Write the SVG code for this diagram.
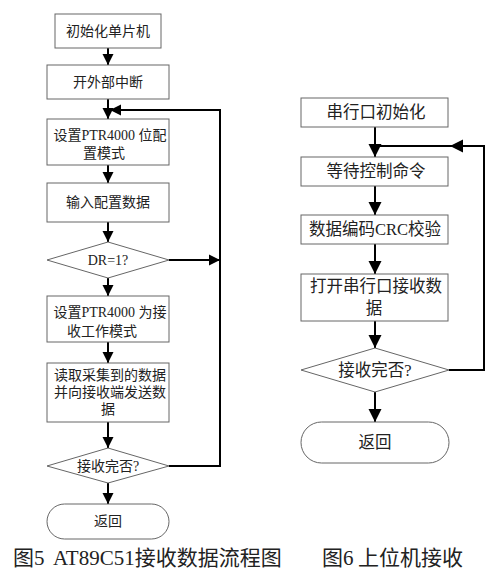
<svg xmlns="http://www.w3.org/2000/svg" width="500" height="574" viewBox="0 0 500 574">
<style>
.box{fill:#fff;stroke:#666;stroke-width:1}
.t{font-family:"Liberation Serif","Noto Sans CJK SC",serif;font-size:14px;fill:#222;text-anchor:middle}
.tr{font-family:"Liberation Serif","Noto Sans CJK SC",serif;font-size:16.5px;fill:#222;text-anchor:middle}
.cap{font-family:"Liberation Serif","Noto Sans CJK SC",serif;font-size:21px;fill:#222}
.ln{fill:none;stroke:#000;stroke-width:2}
</style>
<defs>
<marker id="a" viewBox="0 0 10 10" refX="10" refY="5" markerWidth="5.5" markerHeight="6.5" markerUnits="strokeWidth" orient="auto">
<path d="M0,0 L10,5 L0,10 z" fill="#000"/>
</marker>
<marker id="b" viewBox="0 0 10 10" refX="10" refY="5" markerWidth="6.5" markerHeight="7" markerUnits="strokeWidth" orient="auto">
<path d="M0,0 L10,5 L0,10 z" fill="#000"/>
</marker>
</defs>
<rect width="500" height="574" fill="#fff"/>
<g id="connectors">
<line class="ln" x1="108" y1="48" x2="108" y2="65" marker-end="url(#a)"/>
<line class="ln" x1="108" y1="99" x2="108" y2="119" marker-end="url(#a)"/>
<line class="ln" x1="108" y1="165" x2="108" y2="183" marker-end="url(#a)"/>
<line class="ln" x1="108" y1="222" x2="108" y2="242" marker-end="url(#a)"/>
<line class="ln" x1="108" y1="278" x2="108" y2="296" marker-end="url(#a)"/>
<line class="ln" x1="108" y1="342" x2="108" y2="363" marker-end="url(#a)"/>
<line class="ln" x1="108" y1="422" x2="108" y2="448" marker-end="url(#a)"/>
<line class="ln" x1="108" y1="483" x2="108" y2="504" marker-end="url(#a)"/>
<line class="ln" x1="169" y1="260" x2="220" y2="260" marker-end="url(#a)"/>
<polyline class="ln" points="169,466 220,466 220,110 110,110" marker-end="url(#a)"/>
<line class="ln" x1="375" y1="127" x2="375" y2="157" marker-end="url(#b)"/>
<line class="ln" x1="375" y1="186" x2="375" y2="215" marker-end="url(#b)"/>
<line class="ln" x1="375" y1="244" x2="375" y2="274" marker-end="url(#b)"/>
<line class="ln" x1="375" y1="321" x2="375" y2="348" marker-end="url(#b)"/>
<line class="ln" x1="375" y1="392" x2="375" y2="422" marker-end="url(#b)"/>
<polyline class="ln" points="449,370 484,370 484,146 375,146"/>
<line class="ln" x1="470" y1="146" x2="450" y2="146" marker-end="url(#b)"/>
</g>
<g id="n1"><rect class="box" x="55" y="14" width="106" height="34"/><text class="t" x="108" y="36">初始化单片机</text></g>
<g id="n2"><rect class="box" x="47" y="65" width="122" height="34"/><text class="t" x="108" y="87">开外部中断</text></g>
<g id="n3"><rect class="box" x="47" y="119" width="122" height="46"/><text class="t" x="110" y="140">设置PTR4000 位配</text><text class="t" x="104" y="158">置模式</text></g>
<g id="n4"><rect class="box" x="47" y="183" width="122" height="39"/><text class="t" x="108" y="207">输入配置数据</text></g>
<g id="n5"><polygon class="box" points="47,260 108,242 169,260 108,278"/><text class="t" x="108" y="265">DR=1?</text></g>
<g id="n6"><rect class="box" x="47" y="296" width="122" height="46"/><text class="t" x="110" y="317">设置PTR4000 为接</text><text class="t" x="102" y="336">收工作模式</text></g>
<g id="n7"><rect class="box" x="47" y="363" width="122" height="59"/><text class="t" x="110" y="380">读取采集到的数据</text><text class="t" x="110" y="397">并向接收端发送数</text><text class="t" x="108" y="414">据</text></g>
<g id="n8"><polygon class="box" points="47,466 108,448 169,466 108,483"/><text class="t" x="108" y="471">接收完否?</text></g>
<g id="n9"><rect class="box" x="47" y="504" width="122" height="35" rx="17.5"/><text class="t" x="108" y="526">返回</text></g>
<g id="m1"><rect class="box" x="301" y="98" width="147" height="29"/><text class="tr" x="376" y="118">串行口初始化</text></g>
<g id="m2"><rect class="box" x="301" y="157" width="147" height="29"/><text class="tr" x="376" y="177">等待控制命令</text></g>
<g id="m3"><rect class="box" x="301" y="215" width="147" height="29"/><text class="tr" x="375" y="235">数据编码CRC校验</text></g>
<g id="m4"><rect class="box" x="301" y="274" width="147" height="47"/><text class="tr" x="376" y="292">打开串行口接收数</text><text class="tr" x="374" y="314">据</text></g>
<g id="m5"><polygon class="box" points="301,370 375,348 449,370 375,392"/><text class="tr" x="375" y="376">接收完否?</text></g>
<g id="m6"><rect class="box" x="301" y="422" width="148" height="41" rx="20.5"/><text class="tr" x="375" y="448">返回</text></g>
<g id="captions">
<text class="cap" y="565"><tspan x="13">图5</tspan><tspan x="53">AT89C51接收数据流程图</tspan></text>
<text class="cap" y="565"><tspan x="322">图6</tspan><tspan x="358">上位机接收</tspan></text>
</g>
</svg>
